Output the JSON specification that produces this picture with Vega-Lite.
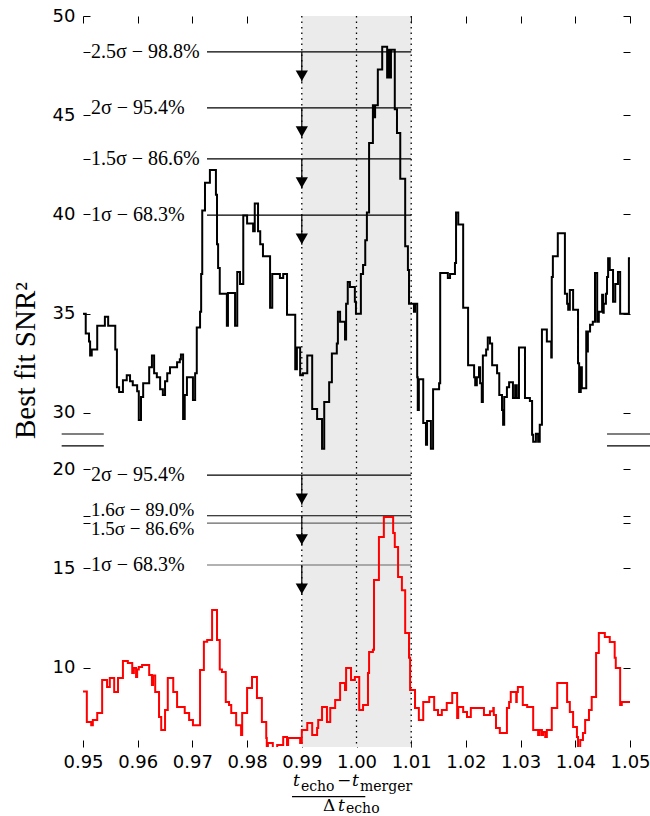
{
  "$schema": "https://vega.github.io/schema/vega-lite/v6.json",
  "autosize": "none",
  "padding": {"left": 83, "top": 16, "right": 20, "bottom": 69},
  "width": 547,
  "height": 731,
  "background": "white",
  "config": {
    "view": {"stroke": null},
    "axis": {"grid": false, "domain": false, "tickSize": -7, "tickColor": "black", "tickWidth": 1, "labelFont": "DejaVu Sans", "labelFontSize": 18, "labelColor": "black", "labelFlush": false, "labelOverlap": false, "titleFont": "Liberation Serif", "titleFontSize": 29, "titleFontWeight": "normal", "titleColor": "black"}
  },
  "datasets": {
    "top": [
      {"t":0.9500,"v":35.0},{"t":0.9505,"v":34.0},{"t":0.9511,"v":33.6},{"t":0.9513,"v":32.9},{"t":0.9516,"v":33.2},{"t":0.9526,"v":34.4},{"t":0.9540,"v":34.85},{"t":0.9546,"v":34.4},{"t":0.9559,"v":33.2},{"t":0.9562,"v":31.3},{"t":0.9566,"v":31.05},{"t":0.9573,"v":31.65},{"t":0.9580,"v":31.9},{"t":0.9586,"v":31.6},{"t":0.9591,"v":31.4},{"t":0.9599,"v":31.1},{"t":0.9602,"v":29.65},{"t":0.9606,"v":30.8},{"t":0.9610,"v":31.5},{"t":0.9621,"v":32.3},{"t":0.9626,"v":32.9},{"t":0.9630,"v":32.0},{"t":0.9635,"v":31.8},{"t":0.9641,"v":31.2},{"t":0.9646,"v":30.9},{"t":0.9650,"v":31.6},{"t":0.9654,"v":32.0},{"t":0.9659,"v":32.3},{"t":0.9672,"v":32.55},{"t":0.9677,"v":32.7},{"t":0.9679,"v":32.95},{"t":0.9683,"v":29.7},{"t":0.9686,"v":30.9},{"t":0.9690,"v":31.8},{"t":0.9701,"v":30.65},{"t":0.9705,"v":32.0},{"t":0.9708,"v":34.3},{"t":0.9714,"v":35.1},{"t":0.9716,"v":37.0},{"t":0.9718,"v":40.2},{"t":0.9723,"v":41.6},{"t":0.9732,"v":42.24},{"t":0.9743,"v":41.0},{"t":0.9745,"v":38.5},{"t":0.9747,"v":37.3},{"t":0.9750,"v":36.0},{"t":0.9763,"v":34.4},{"t":0.9765,"v":36.05},{"t":0.9778,"v":34.4},{"t":0.9782,"v":37.1},{"t":0.9787,"v":36.5},{"t":0.9793,"v":39.95},{"t":0.9800,"v":39.55},{"t":0.9811,"v":39.15},{"t":0.9814,"v":40.55},{"t":0.9820,"v":39.15},{"t":0.9824,"v":38.5},{"t":0.9829,"v":37.9},{"t":0.9842,"v":35.3},{"t":0.9846,"v":37.0},{"t":0.9860,"v":36.8},{"t":0.9866,"v":37.0},{"t":0.9873,"v":34.95},{"t":0.9888,"v":32.2},{"t":0.9891,"v":33.3},{"t":0.9897,"v":31.9},{"t":0.9902,"v":32.0},{"t":0.9910,"v":32.9},{"t":0.9919,"v":30.2},{"t":0.9928,"v":29.7},{"t":0.9937,"v":28.2},{"t":0.9941,"v":30.55},{"t":0.9950,"v":31.55},{"t":0.9955,"v":33.0},{"t":0.9964,"v":33.5},{"t":0.9966,"v":35.1},{"t":0.9970,"v":34.6},{"t":0.9979,"v":33.7},{"t":0.9981,"v":35.5},{"t":0.9984,"v":36.6},{"t":0.9988,"v":36.35},{"t":0.9997,"v":35.6},{"t":0.9999,"v":35.0},{"t":1.0008,"v":37.0},{"t":1.0012,"v":37.45},{"t":1.0016,"v":38.7},{"t":1.0019,"v":40.1},{"t":1.0023,"v":43.6},{"t":1.0030,"v":45.5},{"t":1.0032,"v":44.9},{"t":1.0034,"v":45.5},{"t":1.0039,"v":47.3},{"t":1.0047,"v":48.45},{"t":1.0056,"v":46.9},{"t":1.0058,"v":48.3},{"t":1.0061,"v":46.9},{"t":1.0063,"v":48.3},{"t":1.0070,"v":45.3},{"t":1.0074,"v":44.1},{"t":1.0080,"v":41.8},{"t":1.0089,"v":38.4},{"t":1.0094,"v":37.2},{"t":1.0096,"v":35.5},{"t":1.0105,"v":35.1},{"t":1.0107,"v":35.5},{"t":1.0111,"v":31.8},{"t":1.0112,"v":30.15},{"t":1.0114,"v":31.7},{"t":1.0122,"v":29.5},{"t":1.0127,"v":28.4},{"t":1.0129,"v":29.6},{"t":1.0136,"v":28.2},{"t":1.0140,"v":31.2},{"t":1.0151,"v":31.5},{"t":1.0153,"v":37.05},{"t":1.0167,"v":36.8},{"t":1.0171,"v":37.0},{"t":1.0180,"v":37.55},{"t":1.0182,"v":40.1},{"t":1.0186,"v":39.5},{"t":1.0195,"v":35.3},{"t":1.0204,"v":32.4},{"t":1.0215,"v":31.8},{"t":1.0217,"v":31.4},{"t":1.0220,"v":31.8},{"t":1.0224,"v":32.3},{"t":1.0226,"v":31.5},{"t":1.0229,"v":30.55},{"t":1.0231,"v":32.9},{"t":1.0237,"v":33.2},{"t":1.0240,"v":33.8},{"t":1.0244,"v":33.5},{"t":1.0248,"v":32.4},{"t":1.0257,"v":32.0},{"t":1.0261,"v":30.9},{"t":1.0266,"v":30.15},{"t":1.0268,"v":29.4},{"t":1.0270,"v":30.8},{"t":1.0275,"v":31.3},{"t":1.0279,"v":31.55},{"t":1.0286,"v":30.75},{"t":1.0290,"v":31.4},{"t":1.0293,"v":30.75},{"t":1.0297,"v":33.3},{"t":1.0308,"v":30.75},{"t":1.0317,"v":30.6},{"t":1.0321,"v":28.9},{"t":1.0323,"v":28.55},{"t":1.0328,"v":28.95},{"t":1.0332,"v":28.55},{"t":1.0335,"v":29.4},{"t":1.0339,"v":34.2},{"t":1.0348,"v":33.6},{"t":1.0356,"v":32.8},{"t":1.0357,"v":36.85},{"t":1.0359,"v":37.9},{"t":1.0368,"v":39.05},{"t":1.0381,"v":36.0},{"t":1.0385,"v":35.5},{"t":1.0387,"v":35.2},{"t":1.0390,"v":36.2},{"t":1.0396,"v":35.2},{"t":1.0405,"v":32.5},{"t":1.0407,"v":31.05},{"t":1.0410,"v":32.3},{"t":1.0412,"v":31.25},{"t":1.0420,"v":34.1},{"t":1.0421,"v":33.1},{"t":1.0423,"v":34.1},{"t":1.0427,"v":34.45},{"t":1.0432,"v":34.6},{"t":1.0436,"v":37.05},{"t":1.0440,"v":34.6},{"t":1.0443,"v":35.1},{"t":1.0449,"v":35.95},{"t":1.0451,"v":35.05},{"t":1.0452,"v":35.5},{"t":1.0456,"v":36.0},{"t":1.0458,"v":36.85},{"t":1.0460,"v":37.8},{"t":1.0463,"v":37.2},{"t":1.0469,"v":35.6},{"t":1.0473,"v":36.5},{"t":1.0478,"v":37.1},{"t":1.0482,"v":35.0},{"t":1.0498,"v":37.8},{"t":1.0500,"v":37.8}
    ],
    "red": [
      {"t":0.9500,"v":8.79},{"t":0.9507,"v":7.26},{"t":0.9515,"v":7.1},{"t":0.9518,"v":7.36},{"t":0.9526,"v":7.71},{"t":0.9535,"v":9.38},{"t":0.9544,"v":9.02},{"t":0.9549,"v":9.48},{"t":0.9557,"v":8.77},{"t":0.9564,"v":9.48},{"t":0.9573,"v":10.33},{"t":0.9582,"v":10.23},{"t":0.9590,"v":9.73},{"t":0.9593,"v":9.98},{"t":0.9597,"v":9.53},{"t":0.9599,"v":9.9},{"t":0.9602,"v":10.03},{"t":0.9608,"v":10.13},{"t":0.9621,"v":9.63},{"t":0.9626,"v":9.12},{"t":0.9628,"v":9.6},{"t":0.9632,"v":8.77},{"t":0.9639,"v":7.51},{"t":0.9643,"v":6.86},{"t":0.9650,"v":7.86},{"t":0.9655,"v":9.48},{"t":0.9665,"v":8.77},{"t":0.9672,"v":8.02},{"t":0.9686,"v":7.71},{"t":0.9694,"v":7.36},{"t":0.9701,"v":7.1},{"t":0.9714,"v":9.88},{"t":0.9721,"v":11.3},{"t":0.9727,"v":11.39},{"t":0.9736,"v":12.9},{"t":0.9745,"v":11.39},{"t":0.9750,"v":9.9},{"t":0.9754,"v":9.78},{"t":0.9761,"v":8.27},{"t":0.9767,"v":8.12},{"t":0.9771,"v":7.71},{"t":0.9780,"v":7.1},{"t":0.9789,"v":6.6},{"t":0.9791,"v":7.71},{"t":0.9800,"v":8.97},{"t":0.9809,"v":9.53},{"t":0.9818,"v":8.47},{"t":0.9827,"v":7.26},{"t":0.9835,"v":6.45},{"t":0.9836,"v":6.0},{"t":0.9838,"v":6.2},{"t":0.9847,"v":5.8},{"t":0.9855,"v":6.1},{"t":0.9866,"v":6.5},{"t":0.9873,"v":6.1},{"t":0.9875,"v":6.45},{"t":0.9897,"v":6.2},{"t":0.9900,"v":6.86},{"t":0.9910,"v":7.21},{"t":0.9919,"v":6.6},{"t":0.9928,"v":6.96},{"t":0.9930,"v":7.36},{"t":0.9937,"v":8.02},{"t":0.9946,"v":7.26},{"t":0.9952,"v":7.96},{"t":0.9961,"v":8.37},{"t":0.9970,"v":9.22},{"t":0.9979,"v":8.87},{"t":0.9981,"v":9.98},{"t":0.9990,"v":9.38},{"t":0.9997,"v":9.53},{"t":1.0005,"v":7.86},{"t":1.0012,"v":8.12},{"t":1.0021,"v":9.73},{"t":1.0023,"v":10.79},{"t":1.0030,"v":10.9},{"t":1.0032,"v":14.41},{"t":1.0041,"v":16.58},{"t":1.0050,"v":17.59},{"t":1.0067,"v":16.78},{"t":1.0070,"v":16.08},{"t":1.0076,"v":14.56},{"t":1.0083,"v":13.9},{"t":1.0089,"v":11.74},{"t":1.0096,"v":10.5},{"t":1.0098,"v":8.87},{"t":1.0107,"v":7.96},{"t":1.0114,"v":7.36},{"t":1.0122,"v":8.27},{"t":1.0133,"v":8.52},{"t":1.0142,"v":7.86},{"t":1.0149,"v":7.61},{"t":1.0156,"v":7.86},{"t":1.0165,"v":8.22},{"t":1.0175,"v":8.72},{"t":1.0184,"v":7.46},{"t":1.0186,"v":8.02},{"t":1.0195,"v":7.76},{"t":1.0202,"v":7.51},{"t":1.0209,"v":7.96},{"t":1.0233,"v":7.61},{"t":1.0244,"v":7.8},{"t":1.0250,"v":7.96},{"t":1.0251,"v":7.61},{"t":1.0255,"v":6.96},{"t":1.0262,"v":6.7},{"t":1.0275,"v":7.96},{"t":1.0279,"v":8.27},{"t":1.0282,"v":8.77},{"t":1.0292,"v":8.27},{"t":1.0293,"v":8.77},{"t":1.0295,"v":9.02},{"t":1.0304,"v":8.12},{"t":1.0312,"v":8.02},{"t":1.0323,"v":6.86},{"t":1.0332,"v":6.6},{"t":1.0335,"v":6.86},{"t":1.0339,"v":6.6},{"t":1.0341,"v":6.75},{"t":1.0345,"v":6.5},{"t":1.0348,"v":6.86},{"t":1.0357,"v":7.96},{"t":1.0367,"v":9.22},{"t":1.0385,"v":8.27},{"t":1.0390,"v":7.76},{"t":1.0396,"v":7.01},{"t":1.0403,"v":6.5},{"t":1.0405,"v":5.9},{"t":1.0409,"v":6.35},{"t":1.0414,"v":6.7},{"t":1.0418,"v":7.36},{"t":1.0425,"v":7.86},{"t":1.0430,"v":8.52},{"t":1.0438,"v":10.74},{"t":1.0443,"v":11.74},{"t":1.0454,"v":11.54},{"t":1.0463,"v":11.29},{"t":1.0472,"v":10.5},{"t":1.0474,"v":9.98},{"t":1.0482,"v":8.12},{"t":1.0485,"v":8.27},{"t":1.0500,"v":8.27}
    ],
    "levelsTop": [
      {"level":48.19,"tip":46.69,"label":"2.5σ − 98.8%"},
      {"level":45.37,"tip":43.87,"label":"2σ − 95.4%"},
      {"level":42.8,"tip":41.3,"label":"1.5σ − 86.6%"},
      {"level":39.97,"tip":38.47,"label":"1σ − 68.3%"}
    ],
    "levelsBottom": [
      {"level":19.7,"tip":18.2,"label":"2σ − 95.4%"},
      {"level":17.65,"tip":16.15,"label":"1.6σ − 89.0%"},
      {"level":17.28,"label":"1.5σ − 86.6%"},
      {"level":15.17,"tip":13.67,"label":"1σ − 68.3%"}
    ],
    "xtitleMain": [
      {"x":0.99643,"y":4.05,"text":"−"},
      {"x":0.99388,"y":2.8,"text":"Δ"}
    ],
    "xtitleItalic": [
      {"x":0.98840,"y":4.05,"text":"t"},
      {"x":0.99918,"y":4.05,"text":"t"},
      {"x":0.99662,"y":2.8,"text":"t"}
    ],
    "xtitleSub": [
      {"x":0.98985,"y":3.8,"text":"echo"},
      {"x":1.00064,"y":3.8,"text":"merger"},
      {"x":0.99808,"y":2.66,"text":"echo"}
    ]
  },
  "layer": [
    {
      "layer": [
        {
          "data": {"values": [{}]},
          "mark": {"type": "rect", "color": "#ebebeb"},
          "encoding": {
            "x": {"datum": 0.99, "type": "quantitative", "scale": {"domain": [0.95, 1.05], "nice": false, "zero": false}, "axis": {"orient": "bottom", "values": [0.95, 0.96, 0.97, 0.98, 0.99, 1.0, 1.01, 1.02, 1.03, 1.04, 1.05], "format": ".2f", "labelPadding": 13, "title": null}},
            "x2": {"datum": 1.01},
            "y": {"datum": 13.17, "type": "quantitative", "scale": {"domain": [13.17, 50], "nice": false, "zero": false}, "axis": null},
            "y2": {"datum": 50}
          }
        },
        {
          "data": {"values": [{"x": 0.99}, {"x": 1.0}, {"x": 1.01}]},
          "mark": {"type": "rule", "strokeDash": [1.5, 4], "strokeWidth": 1.3, "color": "black"},
          "encoding": {
            "x": {"field": "x", "type": "quantitative", "scale": {"domain": [0.95, 1.05], "nice": false, "zero": false}, "axis": {"orient": "top", "values": [0.95, 0.96, 0.97, 0.98, 0.99, 1.0, 1.01, 1.02, 1.03, 1.04, 1.05], "labels": false, "title": null}}
          }
        },
        {
          "data": {"name": "levelsTop"},
          "mark": {"type": "rule", "color": "black", "strokeWidth": 1.2},
          "encoding": {
            "x": {"datum": 0.97267, "type": "quantitative", "scale": {"domain": [0.95, 1.05], "nice": false, "zero": false}, "axis": null},
            "x2": {"datum": 1.01},
            "y": {"field": "level", "type": "quantitative", "scale": {"domain": [13.17, 50], "nice": false, "zero": false}, "axis": {"orient": "right", "values": [30, 35, 40, 42.8, 45, 48.19, 50], "labels": false, "title": null}}
          }
        },
        {
          "data": {"name": "levelsTop"},
          "mark": {"type": "rule", "color": "black", "strokeWidth": 1.2},
          "encoding": {
            "x": {"datum": 0.99, "type": "quantitative", "scale": {"domain": [0.95, 1.05], "nice": false, "zero": false}, "axis": null},
            "y": {"field": "level", "type": "quantitative", "scale": {"domain": [13.17, 50], "nice": false, "zero": false}, "axis": null},
            "y2": {"field": "tip"}
          }
        },
        {
          "data": {"name": "levelsTop"},
          "mark": {"type": "point", "shape": "triangle-down", "filled": true, "size": 150, "color": "black", "opacity": 1, "yOffset": -6},
          "encoding": {
            "x": {"datum": 0.99, "type": "quantitative", "scale": {"domain": [0.95, 1.05], "nice": false, "zero": false}, "axis": null},
            "y": {"field": "tip", "type": "quantitative", "scale": {"domain": [13.17, 50], "nice": false, "zero": false}, "axis": null}
          }
        },
        {
          "data": {"name": "levelsTop"},
          "mark": {"type": "text", "align": "left", "baseline": "middle", "font": "Liberation Serif", "fontSize": 20, "color": "black"},
          "encoding": {
            "x": {"datum": 0.95146, "type": "quantitative", "scale": {"domain": [0.95, 1.05], "nice": false, "zero": false}, "axis": null},
            "y": {"field": "level", "type": "quantitative", "scale": {"domain": [13.17, 50], "nice": false, "zero": false}, "axis": null},
            "text": {"field": "label"}
          }
        },
        {
          "data": {"name": "top"},
          "mark": {"type": "line", "interpolate": "step-after", "color": "black", "strokeWidth": 2},
          "encoding": {
            "x": {"field": "t", "type": "quantitative", "scale": {"domain": [0.95, 1.05], "nice": false, "zero": false}, "axis": null},
            "y": {"field": "v", "type": "quantitative", "scale": {"domain": [13.17, 50], "nice": false, "zero": false}, "axis": {"orient": "left", "values": [30, 35, 40, 42.8, 45, 48.19, 50], "labelExpr": "datum.value % 5 === 0 ? datum.label : ''", "labelPadding": 15, "title": "Best fit SNR²", "titleX": -58, "titleY": 344, "titleBaseline": "middle", "titleAlign": "center", "titleAngle": 270}}
          }
        },
        {
          "mark": {"type": "rule", "color": "black", "strokeWidth": 1.5},
          "encoding": {"y": {"datum": 50, "type": "quantitative", "scale": {"domain": [13.17, 50], "nice": false, "zero": false}, "axis": null}}
        },
        {
          "mark": {"type": "rule", "color": "black", "strokeWidth": 1.5},
          "encoding": {"y": {"datum": 13.17, "type": "quantitative", "scale": {"domain": [13.17, 50], "nice": false, "zero": false}, "axis": null}}
        },
        {
          "mark": {"type": "rule", "color": "black", "strokeWidth": 1.5},
          "encoding": {
            "x": {"datum": 0.95, "type": "quantitative", "scale": {"domain": [0.95, 1.05], "nice": false, "zero": false}, "axis": null},
            "y": {"datum": 28.94, "type": "quantitative", "scale": {"domain": [13.17, 50], "nice": false, "zero": false}, "axis": null},
            "y2": {"datum": 50}
          }
        },
        {
          "mark": {"type": "rule", "color": "black", "strokeWidth": 1.5},
          "encoding": {
            "x": {"datum": 0.95, "type": "quantitative", "scale": {"domain": [0.95, 1.05], "nice": false, "zero": false}, "axis": null},
            "y": {"datum": 13.17, "type": "quantitative", "scale": {"domain": [13.17, 50], "nice": false, "zero": false}, "axis": null},
            "y2": {"datum": 28.34}
          }
        },
        {
          "mark": {"type": "rule", "color": "black", "strokeWidth": 1.5},
          "encoding": {
            "x": {"datum": 1.05, "type": "quantitative", "scale": {"domain": [0.95, 1.05], "nice": false, "zero": false}, "axis": null},
            "y": {"datum": 28.94, "type": "quantitative", "scale": {"domain": [13.17, 50], "nice": false, "zero": false}, "axis": null},
            "y2": {"datum": 50}
          }
        },
        {
          "mark": {"type": "rule", "color": "black", "strokeWidth": 1.5},
          "encoding": {
            "x": {"datum": 1.05, "type": "quantitative", "scale": {"domain": [0.95, 1.05], "nice": false, "zero": false}, "axis": null},
            "y": {"datum": 13.17, "type": "quantitative", "scale": {"domain": [13.17, 50], "nice": false, "zero": false}, "axis": null},
            "y2": {"datum": 28.34}
          }
        },
        {
          "data": {"values": [{"a": 0.9461, "b": 0.9538, "y": 28.94}, {"a": 0.9461, "b": 0.9538, "y": 28.34}, {"a": 1.0458, "b": 1.0537, "y": 28.94}, {"a": 1.0458, "b": 1.0537, "y": 28.34}]},
          "mark": {"type": "rule", "color": "black", "strokeWidth": 1.2},
          "encoding": {
            "x": {"field": "a", "type": "quantitative", "scale": {"domain": [0.95, 1.05], "nice": false, "zero": false}, "axis": null},
            "x2": {"field": "b"},
            "y": {"field": "y", "type": "quantitative", "scale": {"domain": [13.17, 50], "nice": false, "zero": false}, "axis": null}
          }
        },
        {
          "mark": {"type": "text", "text": "SNR", "align": "left", "baseline": "alphabetic", "font": "Liberation Serif", "fontSize": 32, "color": "black"},
          "encoding": {
            "x": {"datum": 1.01417, "type": "quantitative", "scale": {"domain": [0.95, 1.05], "nice": false, "zero": false}, "axis": null},
            "y": {"datum": 46.37, "type": "quantitative", "scale": {"domain": [13.17, 50], "nice": false, "zero": false}, "axis": null}
          }
        },
        {
          "mark": {"type": "text", "text": "2", "align": "left", "baseline": "alphabetic", "font": "Liberation Serif", "fontSize": 20, "color": "black"},
          "encoding": {
            "x": {"datum": 1.02587, "type": "quantitative", "scale": {"domain": [0.95, 1.05], "nice": false, "zero": false}, "axis": null},
            "y": {"datum": 47.43, "type": "quantitative", "scale": {"domain": [13.17, 50], "nice": false, "zero": false}, "axis": null}
          }
        },
        {
          "mark": {"type": "text", "text": "Combined", "align": "left", "baseline": "alphabetic", "font": "Liberation Serif", "fontSize": 25, "color": "black"},
          "encoding": {
            "x": {"datum": 1.02587, "type": "quantitative", "scale": {"domain": [0.95, 1.05], "nice": false, "zero": false}, "axis": null},
            "y": {"datum": 46.02, "type": "quantitative", "scale": {"domain": [13.17, 50], "nice": false, "zero": false}, "axis": null}
          }
        }
      ]
    },
    {
      "layer": [
        {
          "data": {"name": "levelsBottom"},
          "mark": {"type": "rule", "strokeWidth": 1.2},
          "encoding": {
            "x": {"datum": 0.97267, "type": "quantitative", "scale": {"domain": [0.95, 1.05], "nice": false, "zero": false}, "axis": null},
            "x2": {"datum": 1.01},
            "y": {"field": "level", "type": "quantitative", "scale": {"domain": [6, 42.83], "nice": false, "zero": false}, "axis": {"orient": "right", "values": [10, 15, 17.28, 17.65, 20], "labels": false, "title": null}},
            "color": {"condition": {"test": "datum.level < 17.5", "value": "#666666"}, "value": "black"}
          }
        },
        {
          "data": {"name": "levelsBottom"},
          "transform": [{"filter": "isValid(datum.tip)"}],
          "mark": {"type": "rule", "color": "black", "strokeWidth": 1.2},
          "encoding": {
            "x": {"datum": 0.99, "type": "quantitative", "scale": {"domain": [0.95, 1.05], "nice": false, "zero": false}, "axis": null},
            "y": {"field": "level", "type": "quantitative", "scale": {"domain": [6, 42.83], "nice": false, "zero": false}, "axis": null},
            "y2": {"field": "tip"}
          }
        },
        {
          "data": {"name": "levelsBottom"},
          "transform": [{"filter": "isValid(datum.tip)"}],
          "mark": {"type": "point", "shape": "triangle-down", "filled": true, "size": 150, "color": "black", "opacity": 1, "yOffset": -6},
          "encoding": {
            "x": {"datum": 0.99, "type": "quantitative", "scale": {"domain": [0.95, 1.05], "nice": false, "zero": false}, "axis": null},
            "y": {"field": "tip", "type": "quantitative", "scale": {"domain": [6, 42.83], "nice": false, "zero": false}, "axis": null}
          }
        },
        {
          "data": {"name": "levelsBottom"},
          "transform": [{"filter": "datum.level > 19 || datum.level < 16"}],
          "mark": {"type": "text", "align": "left", "baseline": "middle", "font": "Liberation Serif", "fontSize": 20, "color": "black"},
          "encoding": {
            "x": {"datum": 0.95146, "type": "quantitative", "scale": {"domain": [0.95, 1.05], "nice": false, "zero": false}, "axis": null},
            "y": {"field": "level", "type": "quantitative", "scale": {"domain": [6, 42.83], "nice": false, "zero": false}, "axis": null},
            "text": {"field": "label"}
          }
        },
        {
          "data": {"name": "levelsBottom"},
          "transform": [{"filter": "datum.level > 17.5 && datum.level < 19"}],
          "mark": {"type": "text", "align": "left", "baseline": "middle", "font": "Liberation Serif", "fontSize": 19, "color": "black", "dy": -6},
          "encoding": {
            "x": {"datum": 0.95146, "type": "quantitative", "scale": {"domain": [0.95, 1.05], "nice": false, "zero": false}, "axis": null},
            "y": {"field": "level", "type": "quantitative", "scale": {"domain": [6, 42.83], "nice": false, "zero": false}, "axis": null},
            "text": {"field": "label"}
          }
        },
        {
          "data": {"name": "levelsBottom"},
          "transform": [{"filter": "datum.level > 17 && datum.level < 17.5"}],
          "mark": {"type": "text", "align": "left", "baseline": "middle", "font": "Liberation Serif", "fontSize": 19, "color": "black", "dy": 6},
          "encoding": {
            "x": {"datum": 0.95146, "type": "quantitative", "scale": {"domain": [0.95, 1.05], "nice": false, "zero": false}, "axis": null},
            "y": {"field": "level", "type": "quantitative", "scale": {"domain": [6, 42.83], "nice": false, "zero": false}, "axis": null},
            "text": {"field": "label"}
          }
        },
        {
          "data": {"name": "red"},
          "mark": {"type": "line", "interpolate": "step-after", "color": "#ff0000", "strokeWidth": 2, "clip": true},
          "encoding": {
            "x": {"field": "t", "type": "quantitative", "scale": {"domain": [0.95, 1.05], "nice": false, "zero": false}, "axis": null},
            "y": {"field": "v", "type": "quantitative", "scale": {"domain": [6, 42.83], "nice": false, "zero": false}, "axis": {"orient": "left", "values": [10, 15, 17.28, 17.65, 20], "labelExpr": "datum.value % 5 === 0 ? datum.label : ''", "labelPadding": 15, "title": null}}
          }
        },
        {
          "mark": {"type": "text", "text": "SNR", "align": "left", "baseline": "alphabetic", "font": "Liberation Serif", "fontSize": 32, "color": "#ff0000"},
          "encoding": {
            "x": {"datum": 1.01344, "type": "quantitative", "scale": {"domain": [0.95, 1.05], "nice": false, "zero": false}, "axis": null},
            "y": {"datum": 15.92, "type": "quantitative", "scale": {"domain": [6, 42.83], "nice": false, "zero": false}, "axis": null}
          }
        },
        {
          "mark": {"type": "text", "text": "2", "align": "left", "baseline": "alphabetic", "font": "Liberation Serif", "fontSize": 20, "color": "#ff0000"},
          "encoding": {
            "x": {"datum": 1.02514, "type": "quantitative", "scale": {"domain": [0.95, 1.05], "nice": false, "zero": false}, "axis": null},
            "y": {"datum": 16.58, "type": "quantitative", "scale": {"domain": [6, 42.83], "nice": false, "zero": false}, "axis": null}
          }
        },
        {
          "mark": {"type": "text", "text": "GW150914", "align": "left", "baseline": "alphabetic", "font": "Liberation Serif", "fontSize": 25, "color": "#ff0000"},
          "encoding": {
            "x": {"datum": 1.02514, "type": "quantitative", "scale": {"domain": [0.95, 1.05], "nice": false, "zero": false}, "axis": null},
            "y": {"datum": 15.42, "type": "quantitative", "scale": {"domain": [6, 42.83], "nice": false, "zero": false}, "axis": null}
          }
        },
        {
          "data": {"name": "xtitleMain"},
          "mark": {"type": "text", "align": "left", "baseline": "alphabetic", "font": "DejaVu Serif", "fontSize": 17, "color": "black"},
          "encoding": {
            "x": {"field": "x", "type": "quantitative", "scale": {"domain": [0.95, 1.05], "nice": false, "zero": false}, "axis": null},
            "y": {"field": "y", "type": "quantitative", "scale": {"domain": [6, 42.83], "nice": false, "zero": false}, "axis": null},
            "text": {"field": "text"}
          }
        },
        {
          "data": {"name": "xtitleItalic"},
          "mark": {"type": "text", "align": "left", "baseline": "alphabetic", "font": "DejaVu Serif", "fontStyle": "italic", "fontSize": 17, "color": "black"},
          "encoding": {
            "x": {"field": "x", "type": "quantitative", "scale": {"domain": [0.95, 1.05], "nice": false, "zero": false}, "axis": null},
            "y": {"field": "y", "type": "quantitative", "scale": {"domain": [6, 42.83], "nice": false, "zero": false}, "axis": null},
            "text": {"field": "text"}
          }
        },
        {
          "data": {"name": "xtitleSub"},
          "mark": {"type": "text", "align": "left", "baseline": "alphabetic", "font": "DejaVu Serif", "fontSize": 14, "color": "black"},
          "encoding": {
            "x": {"field": "x", "type": "quantitative", "scale": {"domain": [0.95, 1.05], "nice": false, "zero": false}, "axis": null},
            "y": {"field": "y", "type": "quantitative", "scale": {"domain": [6, 42.83], "nice": false, "zero": false}, "axis": null},
            "text": {"field": "text"}
          }
        },
        {
          "data": {"values": [{}]},
          "mark": {"type": "rule", "color": "black", "strokeWidth": 1.3},
          "encoding": {
            "x": {"datum": 0.98821, "type": "quantitative", "scale": {"domain": [0.95, 1.05], "nice": false, "zero": false}, "axis": null},
            "x2": {"datum": 1.00161},
            "y": {"datum": 3.5, "type": "quantitative", "scale": {"domain": [6, 42.83], "nice": false, "zero": false}, "axis": null}
          }
        }
      ]
    }
  ],
  "resolve": {"scale": {"y": "independent"}}
}
